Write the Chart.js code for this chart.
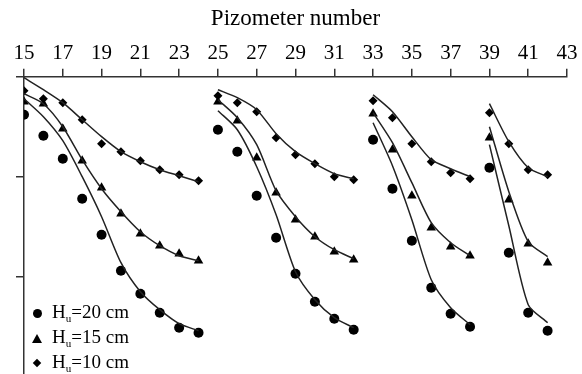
<!DOCTYPE html>
<html>
<head>
<meta charset="utf-8">
<script src="https://cdn.jsdelivr.net/npm/chart.js@4.4.1/dist/chart.umd.min.js"></script>
<style>
    html, body { margin: 0; padding: 0; background: #fff; overflow: hidden; }
    #wrap { position: relative; width: 582px; height: 374px; overflow: hidden; }
    #legenda { position: absolute; left: 31px; top: 299px; font-family: "Liberation Serif", serif; font-size: 19px; color: #000; }
    #legenda div { height: 25px; line-height: 25px; white-space: nowrap; }
    #legenda sub { font-size: 11px; vertical-align: -4px; line-height: 0; }
    .mk { display: inline-block; width: 12px; margin-right: 9px; position: relative; height: 12px; vertical-align: -1px; }
    .circ::after { content: ""; position: absolute; left: 2px; top: 2px; width: 9px; height: 9px; border-radius: 50%; background: #000; }
    .tri::after { content: ""; position: absolute; left: 1px; top: 2px; border-left: 5px solid transparent; border-right: 5px solid transparent; border-bottom: 9px solid #000; }
    .diam::after { content: ""; position: absolute; left: 3px; top: 3px; width: 6px; height: 6px; background: #000; transform: rotate(45deg); }
</style>
</head>
<body>
<div id="wrap">
    <canvas id="graficoPiezometros" width="582" height="380"></canvas>
    <div id="legenda">
        <div><span class="mk circ"></span>H<sub>u</sub>=20 cm</div>
        <div><span class="mk tri"></span>H<sub>u</sub>=15 cm</div>
        <div><span class="mk diam"></span>H<sub>u</sub>=10 cm</div>
    </div>
</div>
<script>
// Piezometer numbers and the groups each fitted curve runs over
const piezometros = [15, 16, 17, 18, 19, 20, 21, 22, 23, 24, 25, 26, 27, 28, 29, 30, 31, 32, 33, 34, 35, 36, 37, 38, 39, 40, 41, 42];
const grupos = [[15, 24], [25, 32], [33, 38], [39, 42]];
const yTicks = [1, 2, 3];

// Measured values (markers)
const hu20 = [2.62, 2.41, 2.18, 1.78, 1.42, 1.06, 0.83, 0.64, 0.49, 0.44, 2.47, 2.25, 1.81, 1.39, 1.03, 0.75, 0.58, 0.47, 2.37, 1.88, 1.36, 0.89, 0.63, 0.50, 2.09, 1.24, 0.64, 0.46];
const hu15 = [2.75, 2.73, 2.48, 2.16, 1.89, 1.63, 1.43, 1.31, 1.23, 1.16, 2.75, 2.56, 2.19, 1.84, 1.57, 1.40, 1.25, 1.17, 2.63, 2.27, 1.81, 1.49, 1.30, 1.21, 2.39, 1.77, 1.33, 1.14];
const hu10 = [2.86, 2.78, 2.74, 2.57, 2.33, 2.25, 2.16, 2.07, 2.02, 1.96, 2.81, 2.74, 2.65, 2.39, 2.22, 2.13, 2.00, 1.97, 2.76, 2.59, 2.33, 2.15, 2.04, 1.98, 2.64, 2.33, 2.07, 2.02];

// Fitted curves
const fit20 = [2.78, 2.60, 2.36, 2.00, 1.60, 1.14, 0.85, 0.67, 0.53, 0.46, 2.66, 2.47, 2.10, 1.62, 1.05, 0.77, 0.59, 0.49, 2.54, 2.11, 1.57, 0.97, 0.69, 0.52, 2.32, 1.51, 0.72, 0.54];
const fit15 = [2.83, 2.73, 2.50, 2.17, 1.88, 1.65, 1.45, 1.31, 1.21, 1.16, 2.77, 2.59, 2.32, 1.86, 1.60, 1.40, 1.27, 1.18, 2.64, 2.34, 1.94, 1.54, 1.34, 1.21, 2.50, 1.85, 1.35, 1.20];
const fit10 = [2.99, 2.87, 2.74, 2.57, 2.40, 2.25, 2.15, 2.07, 2.01, 1.95, 2.87, 2.79, 2.67, 2.43, 2.25, 2.13, 2.03, 1.98, 2.82, 2.65, 2.40, 2.17, 2.08, 2.00, 2.73, 2.35, 2.09, 2.00];

const series = [
    { valores: hu20, ajuste: fit20, estilo: 'circle', raio: 5 },
    { valores: hu15, ajuste: fit15, estilo: 'triangle', raio: 5.5 },
    { valores: hu10, ajuste: fit10, estilo: 'rectRot', raio: 4.5 }
];

const datasets = [];
series.forEach(s => {
    grupos.forEach(([ini, fim]) => {
        const pontos = [];
        piezometros.forEach((p, i) => {
            if (p >= ini && p <= fim) pontos.push({ x: p, y: s.ajuste[i] });
        });
        datasets.push({
            data: pontos,
            showLine: true,
            borderColor: '#222',
            borderWidth: 1.5,
            pointRadius: 0,
            tension: 0.25
        });
    });
    datasets.push({
        data: piezometros.map((p, i) => ({ x: p, y: s.valores[i] })),
        showLine: false,
        pointStyle: s.estilo,
        pointRadius: s.raio,
        backgroundColor: '#000',
        borderColor: '#000',
        borderWidth: 0
    });
});

const fonte = { family: '"Liberation Serif", "Times New Roman", serif', size: 21 };

new Chart(document.getElementById('graficoPiezometros'), {
    type: 'scatter',
    data: { datasets },
    options: {
        responsive: false,
        animation: false,
        layout: { padding: { left: 16, right: 15, top: 0, bottom: 0 } },
        plugins: { legend: { display: false }, tooltip: { enabled: false } },
        scales: {
            x: {
                type: 'linear',
                position: 'top',
                min: 15,
                max: 43,
                ticks: { stepSize: 2, color: '#000', font: fonte, padding: 3, maxRotation: 0 },
                grid: { drawOnChartArea: false, tickLength: 8, color: '#333', lineWidth: 1.5 },
                border: { color: '#333', width: 1.5 },
                title: { display: true, text: 'Pizometer number', color: '#000', font: { ...fonte, size: 23 }, padding: { top: 4.7, bottom: 5.2 } }
            },
            y: {
                type: 'linear',
                min: 0.022,
                max: 3,
                afterBuildTicks: axis => { axis.ticks = yTicks.map(v => ({ value: v })); },
                ticks: { display: false },
                grid: { drawOnChartArea: false, tickLength: 8, color: '#333', lineWidth: 1.5 },
                border: { color: '#333', width: 1.5 }
            }
        }
    }
});
</script>
</body>
</html>
